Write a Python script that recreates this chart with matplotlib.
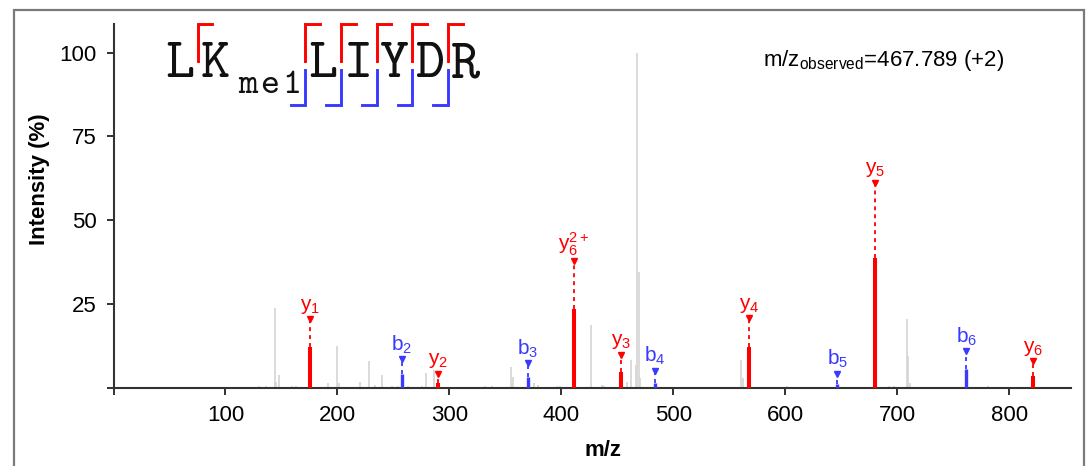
import os

import matplotlib

matplotlib.use("Agg")

import matplotlib.pyplot as plt
from matplotlib.font_manager import FontProperties
from matplotlib.lines import Line2D
from matplotlib.patches import Rectangle

plt.rcParams["font.family"] = ["Liberation Sans", "DejaVu Sans"]
plt.rcParams["mathtext.fontset"] = "custom"
plt.rcParams["mathtext.rm"] = "Liberation Sans"
plt.rcParams["mathtext.default"] = "regular"

# unassigned peaks (grey)
other_mz = [130.3, 136.6, 143.8, 145.3, 147.5, 159.4, 163.0, 171.9, 191.9, 199.8,
            201.3, 220.0, 228.0, 233.2, 239.5, 249.0, 253.8, 263.0, 275.6, 279.2,
            286.3, 331.9, 338.0, 355.0, 356.8, 375.6, 378.8, 396.0, 399.0, 426.0,
            436.3, 437.8, 458.6, 461.8, 466.8, 467.9, 469.4, 470.5, 528.0, 560.5,
            562.0, 601.0, 663.0, 692.7, 697.0, 708.3, 709.8, 711.2, 781.0]
other_int = [0.8, 0.8, 24.0, 2.0, 4.0, 0.7, 0.7, 0.5, 1.5, 12.5,
             1.5, 2.0, 8.2, 1.0, 4.0, 0.7, 0.8, 0.8, 0.7, 4.5,
             5.5, 0.7, 0.6, 6.3, 3.5, 1.5, 1.0, 0.8, 0.7, 19.0,
             1.0, 0.8, 2.0, 8.5, 7.0, 100.0, 34.5, 3.0, 0.5, 8.5,
             3.0, 0.7, 0.5, 0.8, 0.6, 20.5, 9.5, 1.5, 0.7]

# assigned fragment ions
ion_type = ["y", "b", "y", "b", "y", "y", "b", "y", "b", "y", "b", "y"]
ion_num = ["1", "2", "2", "3", "6", "3", "4", "4", "5", "5", "6", "6"]
ion_charge = ["", "", "", "", "2+", "", "", "", "", "", "", ""]
ion_mz = [175.1, 257.2, 290.2, 370.2, 411.3, 453.2, 483.3, 567.3, 646.4, 680.4, 761.4, 821.5]
ion_int = [12.3, 4.3, 1.5, 3.3, 23.7, 5.0, 1.7, 12.2, 1.3, 38.8, 5.7, 3.8]
ion_mark = [20.5, 8.6, 4.4, 7.5, 37.8, 10.0, 5.3, 20.8, 4.3, 61.2, 11.0, 8.0]

# peptide
residues = ["L", "K", "L", "I", "Y", "D", "R"]
residue_mods = ["", "me1", "", "", "", "", ""]
y_cuts = [1, 2, 3, 4, 5, 6]
b_cuts = [2, 3, 4, 5, 6]

precursor_text = r"m/z$_{observed}$=467.789 (+2)"

RED = "#ff0000"
BLUE = "#3a3aff"
GREY = "#d4d4d4"
ion_colors = {"y": RED, "b": BLUE}

W, H = 1090, 466
fig = plt.figure(figsize=(W / 100, H / 100), dpi=100, facecolor="white")


def fx(px):
    return px / W


def fy(py):
    return 1 - py / H


ax = fig.add_axes([fx(113.5), fy(388.3), fx(1071) - fx(113.5), fy(24) - fy(388.3)])

ax.vlines(other_mz, 0, other_int, color=GREY, lw=1.2, zorder=1)
for t, n, c, mz, it, mk in zip(ion_type, ion_num, ion_charge, ion_mz, ion_int, ion_mark):
    col = ion_colors[t]
    ax.vlines(mz, 0, it, color=col, lw=2.9 if t == "y" else 2.4, zorder=3)
    ax.plot([mz, mz], [it, mk], color=col, lw=1.3, ls=(0, (2.2, 2.2)), zorder=2)
    ax.plot(mz, mk, marker="v", ms=5, mec=col, mfc=col, zorder=4, clip_on=False)
    label = f"{t}$_{{{n}}}$" if not c else f"{t}$_{{{n}}}^{{{c}}}$"
    ax.annotate(label, (mz, mk), xytext=(0, 2.5), textcoords="offset points",
                ha="center", va="bottom", color=col, fontsize=15)

ax.set_xlim(0, 855)
ax.set_ylim(0, 108.5)
ax.set_xticks([0, 100, 200, 300, 400, 500, 600, 700, 800])
ax.set_xticklabels(["", "100", "200", "300", "400", "500", "600", "700", "800"])
ax.set_yticks([0, 25, 50, 75, 100])
ax.set_yticklabels(["", "25", "50", "75", "100"])
ax.tick_params(labelsize=16, length=5, width=1.3, pad=7, color="#222222")
for side in ("top", "right"):
    ax.spines[side].set_visible(False)
for side in ("left", "bottom"):
    ax.spines[side].set_linewidth(1.5)
    ax.spines[side].set_color("#333333")

ax.set_xlabel("m/z", fontsize=16, fontweight="bold", va="center")
ax.set_ylabel("Intensity (%)", fontsize=16, fontweight="bold", va="center")
ax.xaxis.set_label_coords(0.511, -0.172)
ax.yaxis.set_label_coords(-0.0768, 0.575)

# peptide sequence with fragment brackets
tt_path = os.path.join(matplotlib.get_data_path(), "fonts", "ttf", "cmtt10.ttf")
seq_font = FontProperties(fname=tt_path, size=40)
mod_font = FontProperties(fname=tt_path, size=26)
adv, mod_adv, x_left, base = 35.7, 22.0, 162.0, 77.0
edges = [x_left]
for res, mod in zip(residues, residue_mods):
    fig.text(fx(edges[-1] + adv / 2), fy(base), res, fontproperties=seq_font,
             ha="center", va="baseline", color="#111111")
    for k, ch in enumerate(mod):
        fig.text(fx(edges[-1] + adv + 3 + mod_adv * (k + 0.5)), fy(base + 16), ch,
                 fontproperties=mod_font, ha="center", va="baseline", color="#111111")
    edges.append(edges[-1] + adv + (mod_adv * len(mod) + 5.8 if mod else 0))

for cut in y_cuts:
    xb = edges[len(residues) - cut]
    fig.add_artist(Line2D([fx(xb + 14.6), fx(xb), fx(xb)], [fy(24), fy(24), fy(61)],
                          color=RED, lw=2.1, solid_joinstyle="miter"))
for cut in b_cuts:
    xb = edges[cut]
    fig.add_artist(Line2D([fx(xb), fx(xb), fx(xb - 14.6)], [fy(69.5), fy(105), fy(105)],
                          color=BLUE, lw=2.1, solid_joinstyle="miter"))

fig.text(fx(763), fy(66), precursor_text, fontsize=16, ha="left", va="baseline")

fig.add_artist(Rectangle((fx(14), -0.1), fx(1084) - fx(14), fy(10) + 0.1, fill=False,
                         edgecolor="#7a7a7a", lw=1.6, transform=fig.transFigure))

fig.savefig("out.png", dpi=100, facecolor="white")
